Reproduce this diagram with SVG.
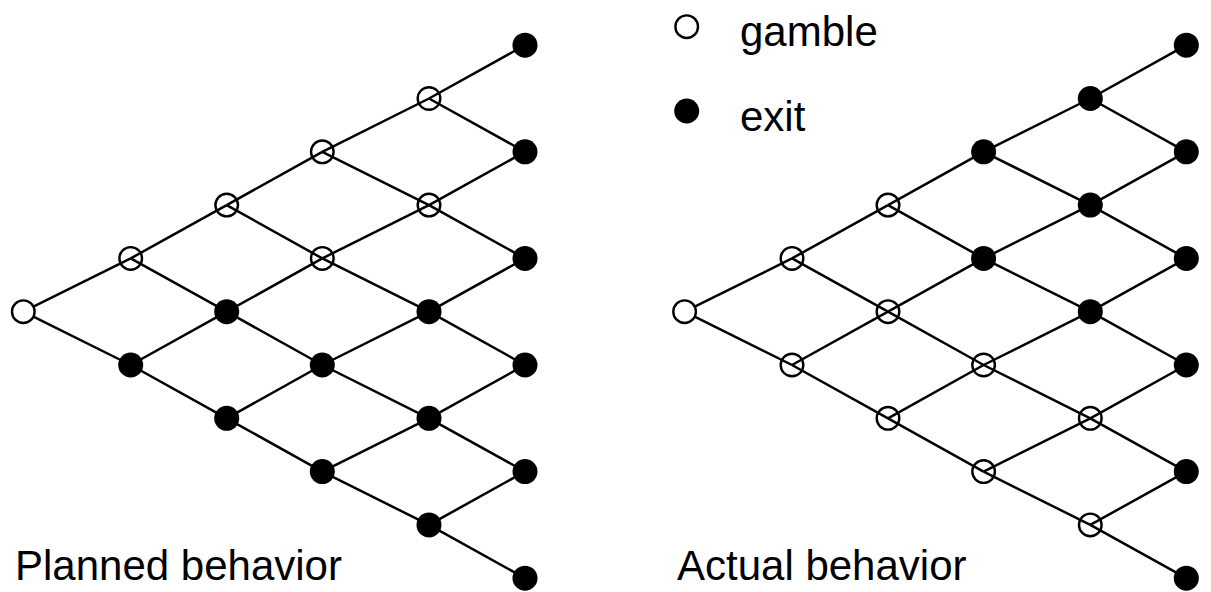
<svg xmlns="http://www.w3.org/2000/svg" width="1211" height="592" viewBox="0 0 1211 592">
<style>
.e{stroke:#000;stroke-width:2.5;fill:none}
.o{fill:none;stroke:#000;stroke-width:2.4}
.r{fill:#fff;stroke:#000;stroke-width:2.4}
.f{fill:#000}
.t{font-family:"Liberation Sans",Arial,sans-serif;fill:#000}
</style>
<rect width="1211" height="592" fill="#fff"/>
<g id="connectors">
<g id="edges-planned">
<line class="e" x1="23.3" y1="311.7" x2="130.7" y2="258.4"/><line class="e" x1="23.3" y1="311.7" x2="130.7" y2="365"/>
<line class="e" x1="130.7" y1="258.4" x2="226.7" y2="205.1"/><line class="e" x1="130.7" y1="258.4" x2="226.7" y2="311.7"/>
<line class="e" x1="130.7" y1="365" x2="226.7" y2="311.7"/><line class="e" x1="130.7" y1="365" x2="226.7" y2="418.3"/>
<line class="e" x1="226.7" y1="205.1" x2="322.3" y2="151.8"/><line class="e" x1="226.7" y1="205.1" x2="322.3" y2="258.4"/>
<line class="e" x1="226.7" y1="311.7" x2="322.3" y2="258.4"/><line class="e" x1="226.7" y1="311.7" x2="322.3" y2="365"/>
<line class="e" x1="226.7" y1="418.3" x2="322.3" y2="365"/><line class="e" x1="226.7" y1="418.3" x2="322.3" y2="471.6"/>
<line class="e" x1="322.3" y1="151.8" x2="429" y2="98.5"/><line class="e" x1="322.3" y1="151.8" x2="429" y2="205.1"/>
<line class="e" x1="322.3" y1="258.4" x2="429" y2="205.1"/><line class="e" x1="322.3" y1="258.4" x2="429" y2="311.7"/>
<line class="e" x1="322.3" y1="365" x2="429" y2="311.7"/><line class="e" x1="322.3" y1="365" x2="429" y2="418.3"/>
<line class="e" x1="322.3" y1="471.6" x2="429" y2="418.3"/><line class="e" x1="322.3" y1="471.6" x2="429" y2="524.9"/>
<line class="e" x1="429" y1="98.5" x2="525" y2="45.2"/><line class="e" x1="429" y1="98.5" x2="525" y2="151.8"/>
<line class="e" x1="429" y1="205.1" x2="525" y2="151.8"/><line class="e" x1="429" y1="205.1" x2="525" y2="258.4"/>
<line class="e" x1="429" y1="311.7" x2="525" y2="258.4"/><line class="e" x1="429" y1="311.7" x2="525" y2="365"/>
<line class="e" x1="429" y1="418.3" x2="525" y2="365"/><line class="e" x1="429" y1="418.3" x2="525" y2="471.6"/>
<line class="e" x1="429" y1="524.9" x2="525" y2="471.6"/><line class="e" x1="429" y1="524.9" x2="525" y2="578.2"/>
</g>
<g id="edges-actual" transform="translate(661.3,0)">
<line class="e" x1="23.3" y1="311.7" x2="130.7" y2="258.4"/><line class="e" x1="23.3" y1="311.7" x2="130.7" y2="365"/>
<line class="e" x1="130.7" y1="258.4" x2="226.7" y2="205.1"/><line class="e" x1="130.7" y1="258.4" x2="226.7" y2="311.7"/>
<line class="e" x1="130.7" y1="365" x2="226.7" y2="311.7"/><line class="e" x1="130.7" y1="365" x2="226.7" y2="418.3"/>
<line class="e" x1="226.7" y1="205.1" x2="322.3" y2="151.8"/><line class="e" x1="226.7" y1="205.1" x2="322.3" y2="258.4"/>
<line class="e" x1="226.7" y1="311.7" x2="322.3" y2="258.4"/><line class="e" x1="226.7" y1="311.7" x2="322.3" y2="365"/>
<line class="e" x1="226.7" y1="418.3" x2="322.3" y2="365"/><line class="e" x1="226.7" y1="418.3" x2="322.3" y2="471.6"/>
<line class="e" x1="322.3" y1="151.8" x2="429" y2="98.5"/><line class="e" x1="322.3" y1="151.8" x2="429" y2="205.1"/>
<line class="e" x1="322.3" y1="258.4" x2="429" y2="205.1"/><line class="e" x1="322.3" y1="258.4" x2="429" y2="311.7"/>
<line class="e" x1="322.3" y1="365" x2="429" y2="311.7"/><line class="e" x1="322.3" y1="365" x2="429" y2="418.3"/>
<line class="e" x1="322.3" y1="471.6" x2="429" y2="418.3"/><line class="e" x1="322.3" y1="471.6" x2="429" y2="524.9"/>
<line class="e" x1="429" y1="98.5" x2="525" y2="45.2"/><line class="e" x1="429" y1="98.5" x2="525" y2="151.8"/>
<line class="e" x1="429" y1="205.1" x2="525" y2="151.8"/><line class="e" x1="429" y1="205.1" x2="525" y2="258.4"/>
<line class="e" x1="429" y1="311.7" x2="525" y2="258.4"/><line class="e" x1="429" y1="311.7" x2="525" y2="365"/>
<line class="e" x1="429" y1="418.3" x2="525" y2="365"/><line class="e" x1="429" y1="418.3" x2="525" y2="471.6"/>
<line class="e" x1="429" y1="524.9" x2="525" y2="471.6"/><line class="e" x1="429" y1="524.9" x2="525" y2="578.2"/>
</g>
</g>
<g id="planned-nodes">
<g id="p0-0"><circle class="r" cx="23.3" cy="311.7" r="11.3"/></g>
<g id="p1-0"><circle class="o" cx="130.7" cy="258.4" r="11.3"/></g>
<g id="p1-1"><circle class="f" cx="130.7" cy="365" r="12.5"/></g>
<g id="p2-0"><circle class="o" cx="226.7" cy="205.1" r="11.3"/></g>
<g id="p2-1"><circle class="f" cx="226.7" cy="311.7" r="12.5"/></g>
<g id="p2-2"><circle class="f" cx="226.7" cy="418.3" r="12.5"/></g>
<g id="p3-0"><circle class="o" cx="322.3" cy="151.8" r="11.3"/></g>
<g id="p3-1"><circle class="o" cx="322.3" cy="258.4" r="11.3"/></g>
<g id="p3-2"><circle class="f" cx="322.3" cy="365" r="12.5"/></g>
<g id="p3-3"><circle class="f" cx="322.3" cy="471.6" r="12.5"/></g>
<g id="p4-0"><circle class="o" cx="429" cy="98.5" r="11.3"/></g>
<g id="p4-1"><circle class="o" cx="429" cy="205.1" r="11.3"/></g>
<g id="p4-2"><circle class="f" cx="429" cy="311.7" r="12.5"/></g>
<g id="p4-3"><circle class="f" cx="429" cy="418.3" r="12.5"/></g>
<g id="p4-4"><circle class="f" cx="429" cy="524.9" r="12.5"/></g>
<g id="p5-0"><circle class="f" cx="525" cy="45.2" r="12.5"/></g>
<g id="p5-1"><circle class="f" cx="525" cy="151.8" r="12.5"/></g>
<g id="p5-2"><circle class="f" cx="525" cy="258.4" r="12.5"/></g>
<g id="p5-3"><circle class="f" cx="525" cy="365" r="12.5"/></g>
<g id="p5-4"><circle class="f" cx="525" cy="471.6" r="12.5"/></g>
<g id="p5-5"><circle class="f" cx="525" cy="578.2" r="12.5"/></g>
</g>
<g id="actual-nodes">
<g id="a0-0"><circle class="r" cx="684.6" cy="311.7" r="11.3"/></g>
<g id="a1-0"><circle class="o" cx="792" cy="258.4" r="11.3"/></g>
<g id="a1-1"><circle class="o" cx="792" cy="365" r="11.3"/></g>
<g id="a2-0"><circle class="o" cx="888" cy="205.1" r="11.3"/></g>
<g id="a2-1"><circle class="o" cx="888" cy="311.7" r="11.3"/></g>
<g id="a2-2"><circle class="o" cx="888" cy="418.3" r="11.3"/></g>
<g id="a3-0"><circle class="f" cx="983.6" cy="151.8" r="12.5"/></g>
<g id="a3-1"><circle class="f" cx="983.6" cy="258.4" r="12.5"/></g>
<g id="a3-2"><circle class="o" cx="983.6" cy="365" r="11.3"/></g>
<g id="a3-3"><circle class="o" cx="983.6" cy="471.6" r="11.3"/></g>
<g id="a4-0"><circle class="f" cx="1090.3" cy="98.5" r="12.5"/></g>
<g id="a4-1"><circle class="f" cx="1090.3" cy="205.1" r="12.5"/></g>
<g id="a4-2"><circle class="f" cx="1090.3" cy="311.7" r="12.5"/></g>
<g id="a4-3"><circle class="o" cx="1090.3" cy="418.3" r="11.3"/></g>
<g id="a4-4"><circle class="o" cx="1090.3" cy="524.9" r="11.3"/></g>
<g id="a5-0"><circle class="f" cx="1186.3" cy="45.2" r="12.5"/></g>
<g id="a5-1"><circle class="f" cx="1186.3" cy="151.8" r="12.5"/></g>
<g id="a5-2"><circle class="f" cx="1186.3" cy="258.4" r="12.5"/></g>
<g id="a5-3"><circle class="f" cx="1186.3" cy="365" r="12.5"/></g>
<g id="a5-4"><circle class="f" cx="1186.3" cy="471.6" r="12.5"/></g>
<g id="a5-5"><circle class="f" cx="1186.3" cy="578.2" r="12.5"/></g>
</g>
<g id="legend">
<g id="legend-gamble"><circle class="o" cx="686.7" cy="26.7" r="11.3"/><text class="t" x="740" y="46" font-size="42">gamble</text></g>
<g id="legend-exit"><circle class="f" cx="686.7" cy="111" r="12.5"/><text class="t" x="740" y="131" font-size="42">exit</text></g>
</g>
<text id="label-planned" class="t" x="15" y="580" font-size="42">Planned behavior</text>
<text id="label-actual" class="t" x="677" y="580" font-size="42">Actual behavior</text>
</svg>
